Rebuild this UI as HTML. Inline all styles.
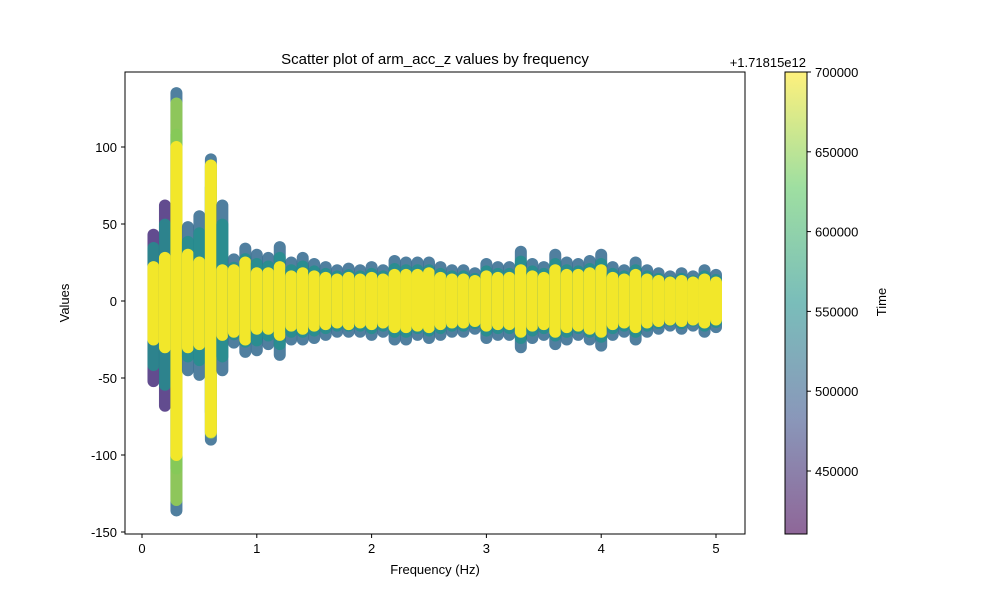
<!DOCTYPE html>
<html><head><meta charset="utf-8"><style>
body{margin:0;background:#fff;font-family:"Liberation Sans",sans-serif}
svg text{font-family:"Liberation Sans",sans-serif;fill:#000}
</style></head><body>
<svg width="1000" height="600" xmlns="http://www.w3.org/2000/svg">
<defs>
<linearGradient id="vir" x1="0" y1="1" x2="0" y2="0">
<stop offset="0" stop-color="#440154"/><stop offset="0.25" stop-color="#3b528b"/>
<stop offset="0.5" stop-color="#21918c"/><stop offset="0.75" stop-color="#5ec962"/>
<stop offset="1" stop-color="#fde725"/></linearGradient>
</defs>
<rect width="1000" height="600" fill="#fff"/>
<text x="435" y="64" font-size="15" text-anchor="middle">Scatter plot of arm_acc_z values by frequency</text>
<g id="marks"></g>
<rect x="125" y="72" width="620" height="462" fill="none" stroke="#000" stroke-width="1"/>
<g id="axes"></g>
<rect x="785" y="72" width="22" height="462" fill="url(#vir)" opacity="0.6"/>
<rect x="785" y="72" width="22" height="462" fill="none" stroke="#000"/>
<g id="cbticks"></g>
<text x="806" y="67" font-size="13" text-anchor="end">+1.71815e12</text>
<text transform="translate(886,302) rotate(-90)" font-size="13" text-anchor="middle">Time</text>
<text x="435" y="574" font-size="13" text-anchor="middle">Frequency (Hz)</text>
<text transform="translate(69,303) rotate(-90)" font-size="13" text-anchor="middle">Values</text>
</svg>
<script>
const freqs=[0.1,0.2,0.3,0.4,0.5,0.6,0.7,0.8,0.9,1.0,1.1,1.2,1.3,1.4,1.5,1.6,1.7,1.8,1.9,2.0,2.1,2.2,2.3,2.4,2.5,2.6,2.7,2.8,2.9,3.0,3.1,3.2,3.3,3.4,3.5,3.6,3.7,3.8,3.9,4.0,4.1,4.2,4.3,4.4,4.5,4.6,4.7,4.8,4.9,5.0];
const maxVals=[43,62,135,48,55,92,62,27,34,30,28,35,25,28,24,22,20,21,20,22,20,26,25,25,25,22,20,20,18,24,22,22,32,24,22,30,25,24,26,30,22,20,25,20,18,16,18,16,20,17];
const minVals=[-52,-68,-136,-45,-48,-90,-45,-27,-33,-32,-28,-35,-25,-25,-24,-22,-20,-20,-20,-22,-20,-25,-25,-22,-24,-22,-20,-20,-18,-24,-22,-22,-30,-24,-22,-28,-25,-22,-25,-29,-22,-20,-25,-20,-18,-16,-18,-16,-20,-17];
const yellowMax=[22,28,100,30,25,88,20,20,25,18,18,22,16,18,16,15,14,15,14,15,14,17,17,17,18,15,14,14,13,16,15,15,20,16,15,20,17,17,18,20,15,14,17,14,13,12,13,12,14,12];
const yellowMin=[-25,-30,-100,-30,-28,-85,-22,-20,-25,-18,-18,-22,-16,-18,-16,-15,-14,-15,-14,-15,-14,-17,-17,-16,-17,-15,-14,-14,-13,-16,-15,-15,-20,-16,-15,-20,-17,-16,-18,-20,-15,-14,-17,-14,-13,-12,-13,-12,-14,-12];
const xTicks=[0,1,2,3,4,5];
const yTicks=[-150,-100,-50,0,50,100];
const cbTicks=[450000,500000,550000,600000,650000,700000];
const NS="http://www.w3.org/2000/svg";
const xs=v=>142+v*114.8, ys=v=>301-v*1.54, cs=v=>72+(700000-v)*79.8/50000;
function mk(t,a,p){const e=document.createElementNS(NS,t);for(const k in a)e.setAttribute(k,a[k]);p.appendChild(e);return e;}
const g=document.getElementById('marks');
freqs.forEach((f,i)=>{
 const x=xs(f);
 let e=mk('line',{x1:x,x2:x,y1:ys(maxVals[i]),y2:ys(minVals[i]),stroke:i<2?'#472d7b':'#31688e','stroke-width':12,'stroke-linecap':'round','stroke-opacity':0.85},g);
 
 
 e=mk('line',{x1:x,x2:x,y1:ys(maxVals[i]*0.8),y2:ys(minVals[i]*0.8),stroke:'#21918c','stroke-width':12,'stroke-linecap':'round','stroke-opacity':0.8},g);
 
 
 if(f===0.3||f===0.6){
  e=mk('line',{x1:x,x2:x,y1:ys(maxVals[i]*0.95),y2:ys(minVals[i]*0.95),stroke:'#9ed84a','stroke-width':12,'stroke-linecap':'round','stroke-opacity':0.8},g);
  
  
 }
 e=mk('line',{x1:x,x2:x,y1:ys(yellowMax[i]),y2:ys(yellowMin[i]),stroke:'#f2e72a','stroke-width':12,'stroke-linecap':'round'},g);
 
 
});
const a=document.getElementById('axes');
xTicks.forEach(t=>{
 const l=mk('line',{x1:xs(t),x2:xs(t),y1:534,y2:538,stroke:'#000'},a);
 
 
 const tx=mk('text',{x:xs(t),y:553,'font-size':13,'text-anchor':'middle'},a);tx.textContent=t;
 
 
});
yTicks.forEach(t=>{
 const l=mk('line',{x1:121,x2:125,y1:ys(t),y2:ys(t),stroke:'#000'},a);
 
 
 const tx=mk('text',{x:117,y:ys(t)+5,'font-size':13,'text-anchor':'end'},a);tx.textContent=t;
 
 
});
const c=document.getElementById('cbticks');
cbTicks.forEach(t=>{
 const l=mk('line',{x1:807,x2:811,y1:cs(t),y2:cs(t),stroke:'#000'},c);
 
 
 const tx=mk('text',{x:815,y:cs(t)+5,'font-size':13},c);tx.textContent=t;
 
 
});
</script>
</body></html>
